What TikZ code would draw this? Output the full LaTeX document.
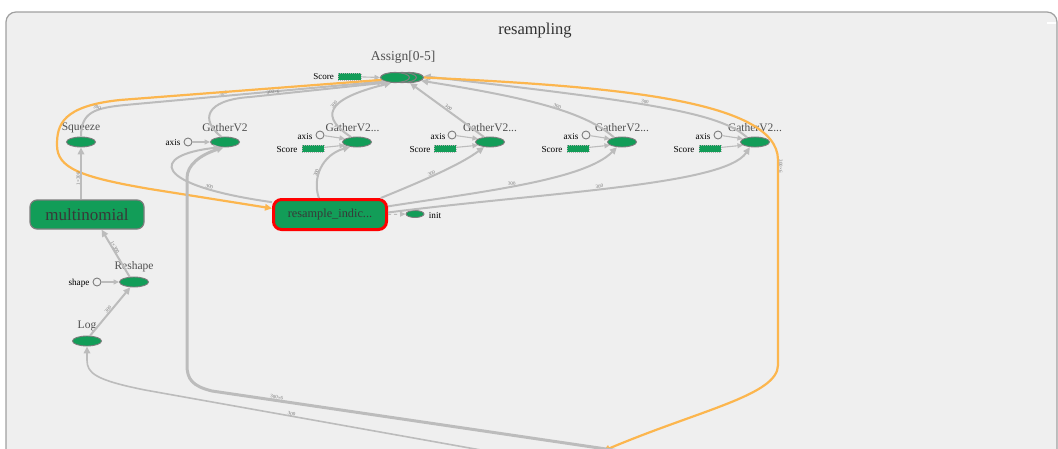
\documentclass[tikz,border=0pt]{standalone}
\usepackage{fontspec}
\setmainfont{Liberation Serif}
\usetikzlibrary{arrows.meta,shapes.geometric}

\definecolor{paper}{RGB}{239,239,239}
\definecolor{framegray}{RGB}{160,160,160}
\definecolor{opgreen}{RGB}{18,157,88}
\definecolor{opborder}{RGB}{125,125,125}
\definecolor{edgegray}{RGB}{188,188,188}
\definecolor{reforange}{RGB}{252,182,78}
\definecolor{txtgray}{RGB}{80,80,80}
\definecolor{labgray}{RGB}{120,120,120}

\tikzset{
  op/.style={ellipse, fill=opgreen, draw=opborder, line width=0.9pt,
    minimum width=29pt, minimum height=10pt, inner sep=0pt},
  cnst/.style={circle, draw=opborder, fill=paper, line width=0.9pt,
    minimum size=8pt, inner sep=0pt},
  series/.style={rectangle, fill=opgreen, draw=opborder!60, dash pattern=on 1pt off 1pt,
    line width=0.5pt, minimum width=22pt, minimum height=7pt, inner sep=0pt},
  opname/.style={font=\fontsize{11.5}{12}\selectfont, text=txtgray, inner sep=0pt},
  small/.style={font=\fontsize{9.2}{10}\selectfont, text=black, inner sep=0pt},
  metanode/.style={rectangle, rounded corners=7pt, fill=opgreen, draw=opborder,
    line width=1.2pt, minimum width=114pt, minimum height=29pt, inner sep=0pt,
    font=\fontsize{17}{18}\selectfont, text=txtgray!70!black},
  selnode/.style={rectangle, rounded corners=8pt, fill=opgreen, draw=red,
    line width=3pt, minimum width=113pt, minimum height=30pt, inner sep=0pt,
    font=\fontsize{12.3}{13}\selectfont, text=txtgray!70!black},
  dataedge/.style={draw=edgegray, line width=2pt, -{Triangle[length=7pt,width=6.5pt]}},
  refedge/.style={draw=reforange, line width=2.2pt, -{Triangle[length=7pt,width=6.5pt]}},
  inedge/.style={draw=edgegray, line width=1.1pt, -{Triangle[length=5.5pt,width=5pt]}},
  ctrledge/.style={draw=edgegray, line width=1pt, dashed, -{Triangle[length=5.5pt,width=5pt]}},
  elab/.style={font=\fontsize{5}{5}\selectfont, text=labgray, sloped, inner sep=0.5pt},
}

\begin{document}
\begin{tikzpicture}[x=1pt,y=-1pt]
\useasboundingbox (0,0) rectangle (1058,448);
\clip (0,0) rectangle (1058,448);
\fill[white] (0,0) rectangle (1058,448);

% group frame
\draw[rounded corners=10pt, fill=paper, draw=framegray, line width=1.2pt]
  (6,12) rectangle (1057,470);
\draw[white, line width=1.3pt] (1047,23) -- (1056,23);
\node[font=\fontsize{16.5}{17}\selectfont, text=txtgray!60!black] (title) at (535,31) {resampling};

% Assign stack
\node[op, line width=1.1pt] (asgC) at (409,77.5) {};
\node[op, line width=1.1pt] (asgB) at (402,77.5) {};
\node[op, line width=1.1pt] (assign) at (395,77.5) {};
\node[opname, font=\fontsize{13.5}{14}\selectfont] (assignlab) at (403,57) {Assign[0-5]};
\node[series, minimum width=23pt] (scoreA) at (349.5,76.5) {};
\node[small, font=\fontsize{9}{10}\selectfont] (scoreAlab) at (323.5,77) {Score};

% left column
\node[op] (squeeze) at (81,142) {};
\node[opname] (squeezelab) at (81,128) {Squeeze};
\node[metanode] (multi) at (87,214.5) {multinomial};
\node[op] (reshape) at (134,282) {};
\node[opname] (reshapelab) at (134,267) {Reshape};
\node[cnst] (shapec) at (97,282) {};
\node[small] (shapelab) at (79,283) {shape};
\node[op] (log) at (87,341) {};
\node[opname] (loglab) at (87,326) {Log};

% GatherV2 row
\node[op] (gva) at (225,142) {};
\node[opname] (gvalab) at (225,128) {GatherV2};
\node[cnst] (axa) at (188,142) {};
\node[small] (axalab) at (173,142.5) {axis};

\node[op] (gvb) at (357,142) {};
\node[opname] (gvblab) at (352.5,128) {GatherV2...};
\node[cnst] (axb) at (320,135) {};
\node[small] (axblab) at (305,136) {axis};
\node[series] (scb) at (313,148.5) {};
\node[small] (scblab) at (287,149) {Score};

\node[op] (gvc) at (490,142) {};
\node[opname] (gvclab) at (490,128) {GatherV2...};
\node[cnst] (axc) at (452,135) {};
\node[small] (axclab) at (438,136) {axis};
\node[series] (scc) at (445,148.5) {};
\node[small] (scclab) at (420,149) {Score};

\node[op] (gvd) at (622,142) {};
\node[opname] (gvdlab) at (622,128) {GatherV2...};
\node[cnst] (axd) at (586,135) {};
\node[small] (axdlab) at (571,136) {axis};
\node[series] (scd) at (578,148.5) {};
\node[small] (scdlab) at (552,149) {Score};

\node[op] (gve) at (755,142) {};
\node[opname] (gvelab) at (755,128) {GatherV2...};
\node[cnst] (axe) at (718,135) {};
\node[small] (axelab) at (703,136) {axis};
\node[series] (sce) at (710,148.5) {};
\node[small] (scelab) at (684,149) {Score};

% selected op and its init
\node[selnode] (resamp) at (330,214.5) {resample\_indic...};
\node[op, minimum width=18pt, minimum height=7pt] (init) at (415,214) {};
\node[small] (initlab) at (435,215) {init};

% nodes below the visible area
\coordinate (sink) at (603,451);
\coordinate (srcA) at (640,454);
\coordinate (srcB) at (520,457);

% data edges into Assign
\draw[dataedge] (squeeze.north) .. controls (81,112) and (95,108) .. (125,105)
  -- node[elab,pos=0.38,above=-0.5pt]{300} (assign.200);
\draw[dataedge] (gva.125) .. controls (200,120) and (205,100) .. (250,97)
  -- node[elab,pos=0.17,above=-0.5pt]{300×6} (assign.215);
\draw[dataedge] (gvb.140) .. controls (322,118) and (322,100) ..
  node[elab,pos=0.55,above=-0.5pt]{300} (assign.235);
\draw[dataedge] (gvc.140) -- node[elab,pos=0.5,above=-0.5pt]{300} (asgC.280);
\draw[dataedge] (gvd.150) .. controls (585,112) and (530,98) ..
  node[elab,pos=0.45,above=-0.5pt]{300} (asgC.345);
\draw[dataedge] (gve.150) .. controls (720,113) and (650,102) ..
  node[elab,pos=0.55,above=-0.5pt]{300} (asgC.5);
\draw[inedge] (scoreA) -- (assign.west);

% reference edges
\draw[refedge] (assign.190) -- (120,100) .. controls (62,106) and (57,125) .. (57,145)
  .. controls (57,168) and (80,177) .. (150,189) -- (resamp.174);
\node[elab, rotate=-8] (orlab) at (97,107.5) {300};
\draw[refedge] (asgC.east) .. controls (600,86) and (778,98) .. (778,160)
  -- node[elab,pos=0.03,above=-0.5pt]{300×6} (778,365)
  .. controls (778,395) and (700,410) .. (sink);

% data edges out of resample_indic
\draw[dataedge] (resamp.168) .. controls (150,185) and (150,155) ..
  node[elab,pos=0.22,above=-0.5pt]{300} (gva.230);
\draw[dataedge] (resamp.124) .. controls (312,178) and (322,155) ..
  node[elab,pos=0.4,above=-0.5pt]{300} (gvb.215);
\draw[dataedge] (resamp.18) .. controls (420,182) and (460,165) ..
  node[elab,pos=0.45,above=-0.5pt]{300} (gvc.220);
\draw[dataedge] (resamp.8) .. controls (480,192) and (585,180) ..
  node[elab,pos=0.45,above=-0.5pt]{300} (gvd.225);
\draw[dataedge] (resamp.2) .. controls (550,192) and (725,185) ..
  node[elab,pos=0.45,above=-0.5pt]{300} (gve.225);
\draw[ctrledge] (resamp.east) -- (init.west);

% long edges from below
\draw[dataedge, line width=3pt] (srcA) -- node[elab,pos=0.85,above=-0.5pt]{300×6} (212,391)
  .. controls (192,386) and (187,379) .. (187,365) -- (187,178)
  .. controls (187,165) and (200,155) .. (gva.255);
\draw[dataedge, line width=1.6pt] (srcB) -- node[elab,pos=0.61,above=-0.5pt]{300} (145,390)
  .. controls (95,380) and (87,373) .. (87,360) -- (log.south);

% left column edges
\draw[dataedge] (squeeze.south |- multi.north) -- node[elab,pos=0.4,above=-0.5pt]{1×300} (squeeze.south);
\draw[dataedge] (reshape.130) -- node[elab,pos=0.6,above=-0.5pt]{1×300} (multi.314);
\draw[dataedge] (log.60) -- node[elab,pos=0.5,above=-0.5pt]{300} (reshape.235);
\draw[inedge] (shapec) -- (reshape.west);

% inputs of the GatherV2 ops
\draw[inedge] (axa) -- (gva.west);
\draw[inedge] (axb) -- (gvb.165);
\draw[inedge] (scb) -- (gvb.195);
\draw[inedge] (axc) -- (gvc.165);
\draw[inedge] (scc) -- (gvc.195);
\draw[inedge] (axd) -- (gvd.165);
\draw[inedge] (scd) -- (gvd.195);
\draw[inedge] (axe) -- (gve.165);
\draw[inedge] (sce) -- (gve.195);
\end{tikzpicture}
\end{document}
